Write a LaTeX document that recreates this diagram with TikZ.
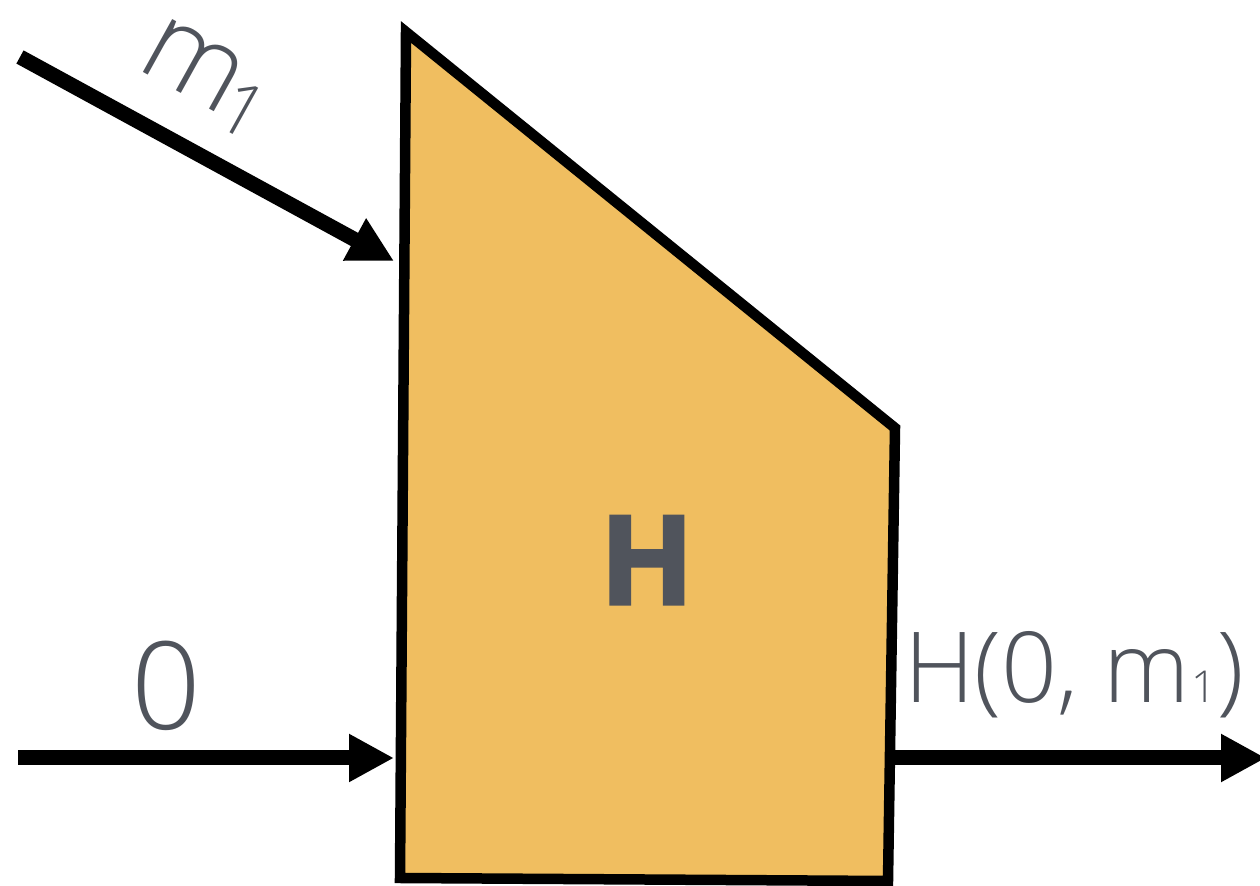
\documentclass[tikz,border=0pt]{standalone}
\usepackage{fontspec}
\usetikzlibrary{arrows.meta}
\newfontfamily\oslight{Open Sans Light}
\newfontfamily\osbold{Open Sans}[BoldFeatures={FakeBold=2.5}]
\definecolor{txtgray}{HTML}{50545C}
\definecolor{boxfill}{HTML}{F0BE60}
\tikzset{
  flow/.style={line width=7.5pt, -{Triangle[length=22.5pt,width=22.5pt]}},
  blockedge/.style={line width=5.25pt, fill=boxfill, line join=miter},
  lbl/.style={inner sep=0pt, outer sep=0pt, text=txtgray}
}
\begin{document}
\begin{tikzpicture}[x=0.5pt,y=-0.5pt]
\useasboundingbox (0,0) rectangle (1260,886);
% block corners
\coordinate (tl) at (406,32);
\coordinate (tr) at (895,428);
\coordinate (br) at (888,881);
\coordinate (bl) at (400,878);
% connector ends
\coordinate (m1start) at (20,57);
\coordinate (m1tip) at (394,261);
\coordinate (ostart) at (18,758);
\coordinate (otip) at (394,758);
\coordinate (hstart) at (892,758);
\coordinate (htip) at (1266,758);
\draw[flow] (hstart) -- (htip);
\draw[blockedge] (tl) -- (tr) -- (br) -- (bl) -- cycle;
\draw[flow] (m1start) -- (m1tip);
\draw[flow] (ostart) -- (otip);
% labels
\node[lbl, anchor=base] (hlabel) at (647,604) {\osbold\bfseries\fontsize{61.5pt}{70pt}\selectfont H};
\node[lbl, anchor=base] (olabel) at (166,730) {\oslight\fontsize{61pt}{70pt}\selectfont 0};
\node[lbl, anchor=base west] (outlabel) at (904,703) {\oslight\fontsize{49pt}{56pt}\selectfont H(0, m\kern0.5pt{\fontsize{22pt}{24pt}\selectfont 1}\kern0.5pt)};
\node[lbl, anchor=base west, rotate=-29] (m1label) at (134,68) {\oslight\fontsize{57pt}{64pt}\selectfont m\kern-3pt\raisebox{-5pt}{\fontsize{37pt}{40pt}\selectfont 1}};
\end{tikzpicture}
\end{document}
